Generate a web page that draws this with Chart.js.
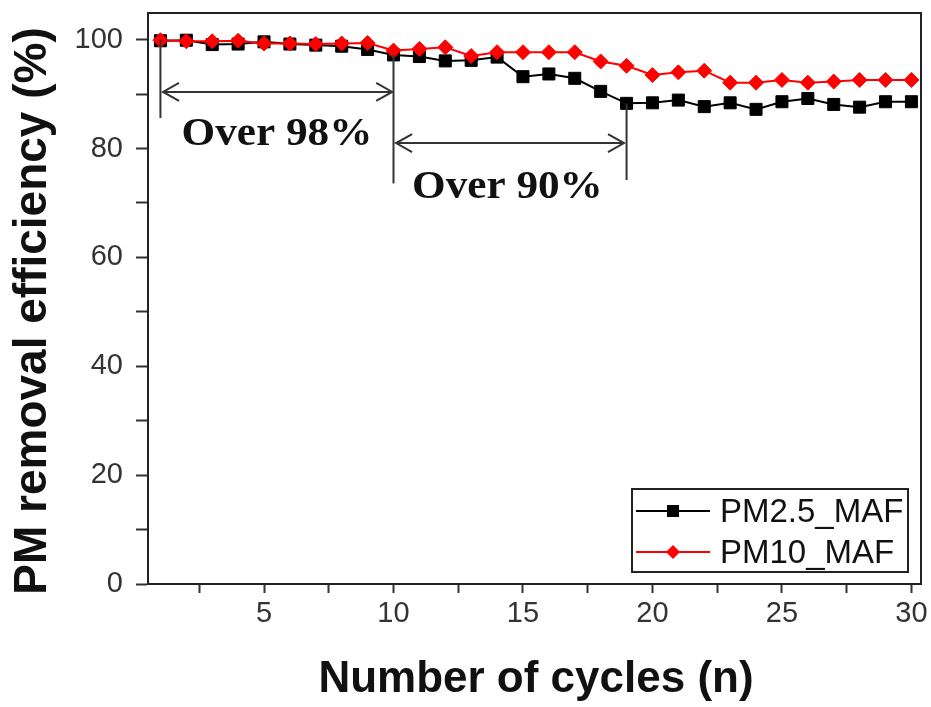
<!DOCTYPE html>
<html>
<head>
<meta charset="utf-8">
<script src="https://cdn.jsdelivr.net/npm/chart.js@4/dist/chart.umd.min.js"></script>
<style>
  body { margin: 0; background: #fff; }
  #wrap { width: 931px; height: 707px; position: relative; }
</style>
</head>
<body>
<div id="wrap"><canvas id="chart"></canvas></div>
<script>
// cycles on the x axis
var cycles = [1, 2, 3, 4, 5, 6, 7, 8, 9, 10, 11, 12, 13, 14, 15, 16, 17, 18, 19, 20, 21, 22, 23, 24, 25, 26, 27, 28, 29, 30];
// removal efficiency (%)
var pm25 = [99.8, 99.9, 99.1, 99.2, 99.6, 99.2, 99.0, 98.8, 98.2, 97.2, 96.9, 96.1, 96.2, 96.8, 93.2, 93.7, 92.9, 90.5, 88.3, 88.4, 88.9, 87.7, 88.4, 87.2, 88.6, 89.2, 88.1, 87.6, 88.6, 88.6];
var pm10 = [99.9, 99.7, 99.7, 99.8, 99.3, 99.3, 99.2, 99.3, 99.4, 98.0, 98.3, 98.6, 97.0, 97.7, 97.7, 97.7, 97.7, 96.0, 95.2, 93.5, 94.0, 94.3, 92.1, 92.1, 92.6, 92.1, 92.3, 92.6, 92.6, 92.6];
var seriesNames = ['PM2.5_MAF', 'PM10_MAF'];

var xTicks = [2.5, 5, 7.5, 10, 12.5, 15, 17.5, 20, 22.5, 25, 27.5, 30];
var yTicks = [0, 10, 20, 30, 40, 50, 60, 70, 80, 90, 100];

// annotation marks (data units)
var markerLines = [[1, 100, 85.6], [10, 97.2, 73.6], [19, 88.3, 74.2]]; // x, yTop, yBottom
var arrows = [[1.1, 9.95, 90.4], [10.1, 18.9, 81.0]];                   // xFrom, xTo, y
var notes = [['Over 98%', 5.5, 82.5], ['Over 90%', 14.4, 72.9]];

function pts(arr) {
  var out = [];
  for (var i in arr) out.push({ x: cycles[i], y: arr[i] });
  return out;
}

var extras = {
  id: 'extras',
  afterDraw: function (chart) {
    var ctx = chart.ctx, a = chart.chartArea;
    var xs = chart.scales.x, ys = chart.scales.y;
    ctx.save();
    // frame top/right
    ctx.strokeStyle = '#222';
    ctx.lineWidth = 2;
    ctx.beginPath();
    ctx.moveTo(a.left, a.top); ctx.lineTo(a.right, a.top); ctx.lineTo(a.right, a.bottom);
    ctx.stroke();

    // annotation lines
    ctx.strokeStyle = '#333';
    ctx.lineWidth = 2;
    markerLines.forEach(function (m) {
      var x = xs.getPixelForValue(m[0]);
      ctx.beginPath();
      ctx.moveTo(x, ys.getPixelForValue(m[1]));
      ctx.lineTo(x, ys.getPixelForValue(m[2]));
      ctx.stroke();
    });
    arrows.forEach(function (r) {
      var x1 = xs.getPixelForValue(r[0]), x2 = xs.getPixelForValue(r[1]), y = ys.getPixelForValue(r[2]);
      ctx.beginPath();
      ctx.moveTo(x1, y); ctx.lineTo(x2, y);
      ctx.moveTo(x1 + 16, y - 9); ctx.lineTo(x1, y); ctx.lineTo(x1 + 16, y + 9);
      ctx.moveTo(x2 - 16, y - 9); ctx.lineTo(x2, y); ctx.lineTo(x2 - 16, y + 9);
      ctx.stroke();
    });
    ctx.fillStyle = '#111';
    ctx.font = 'bold 40px "Liberation Serif", "Times New Roman", serif';
    ctx.textAlign = 'center';
    ctx.textBaseline = 'middle';
    notes.forEach(function (n) {
      var x = xs.getPixelForValue(n[1]), y = ys.getPixelForValue(n[2]);
      ctx.save();
      ctx.translate(x, y);
      ctx.scale(1.08, 1);
      ctx.fillText(n[0], 0, 0);
      ctx.restore();
    });

    // legend box
    ctx.lineWidth = 2;
    ctx.strokeStyle = '#222';
    ctx.strokeRect(632, 489, 276, 83);
    var rows = [[511, '#000', 'rect'], [552, '#ff0000', 'rectRot']];
    ctx.font = '33px "Liberation Sans", Arial, sans-serif';
    ctx.textAlign = 'left';
    rows.forEach(function (r, i) {
      ctx.strokeStyle = r[1];
      ctx.lineWidth = 2;
      ctx.beginPath(); ctx.moveTo(636, r[0]); ctx.lineTo(710, r[0]); ctx.stroke();
      ctx.fillStyle = r[1];
      ctx.beginPath();
      if (r[2] === 'rect') ctx.rect(667, r[0] - 6, 12, 12);
      else { ctx.moveTo(673, r[0] - 7); ctx.lineTo(680, r[0]); ctx.lineTo(673, r[0] + 7); ctx.lineTo(666, r[0]); ctx.closePath(); }
      ctx.fill();
      ctx.fillStyle = '#111';
      ctx.fillText(seriesNames[i], 720, r[0] + 2);
    });

    // axis titles
    ctx.fillStyle = '#111';
    ctx.font = 'bold 44px "Liberation Sans", Arial, sans-serif';
    ctx.textAlign = 'center';
    ctx.fillText('Number of cycles (n)', 536, 680);
    ctx.font = 'bold 46px "Liberation Sans", Arial, sans-serif';
    ctx.save();
    ctx.translate(33, 311);
    ctx.rotate(-Math.PI / 2);
    ctx.fillText('PM removal efficiency (%)', 0, 0);
    ctx.restore();
    ctx.restore();
  }
};

var ctx = document.getElementById('chart');
var chart = new Chart(ctx, {
  type: 'line',
  data: {
    datasets: [{
      label: seriesNames[1],
      data: pts(pm10),
      borderColor: '#ff0000',
      backgroundColor: '#ff0000',
      borderWidth: 2,
      pointStyle: 'rectRot',
      pointRadius: 7.5,
      pointBorderWidth: 1,
      tension: 0
    }, {
      label: seriesNames[0],
      data: pts(pm25),
      borderColor: '#000',
      backgroundColor: '#000',
      borderWidth: 2,
      pointStyle: 'rect',
      pointRadius: 8.5,
      pointBorderWidth: 1,
      tension: 0
    }]
  },
  options: {
    responsive: true,
    maintainAspectRatio: false,
    animation: false,
    layout: { padding: { top: 13, right: 10, left: 0, bottom: 0 } },
    plugins: { legend: { display: false }, tooltip: { enabled: false } },
    scales: {
      x: {
        type: 'linear',
        min: 0.52,
        max: 30.37,
        afterBuildTicks: function (s) { s.ticks = xTicks.map(function (v) { return { value: v }; }); },
        afterFit: function (s) { s.height = 123; s.paddingLeft = 0; s.paddingRight = 0; },
        grid: { drawOnChartArea: false, tickLength: 9, tickColor: '#333', tickWidth: 2 },
        border: { display: true, color: '#222', width: 2 },
        ticks: {
          autoSkip: false, maxRotation: 0, padding: 4, color: '#333',
          font: { family: '"Liberation Sans", Arial, sans-serif', size: 29 },
          callback: function (v) { return v % 5 === 0 ? v : ''; }
        }
      },
      y: {
        min: 0,
        max: 104.9,
        afterBuildTicks: function (s) { s.ticks = yTicks.map(function (v) { return { value: v }; }); },
        afterFit: function (s) { s.width = 148; s.paddingTop = 0; s.paddingBottom = 0; },
        grid: { drawOnChartArea: false, tickLength: 12, tickColor: '#333', tickWidth: 2 },
        border: { display: true, color: '#222', width: 2 },
        ticks: {
          autoSkip: false, padding: 13, color: '#333',
          font: { family: '"Liberation Sans", Arial, sans-serif', size: 29 },
          callback: function (v) { return v % 20 === 0 ? v : ''; }
        }
      }
    }
  },
  plugins: [extras]
});
</script>
</body>
</html>
